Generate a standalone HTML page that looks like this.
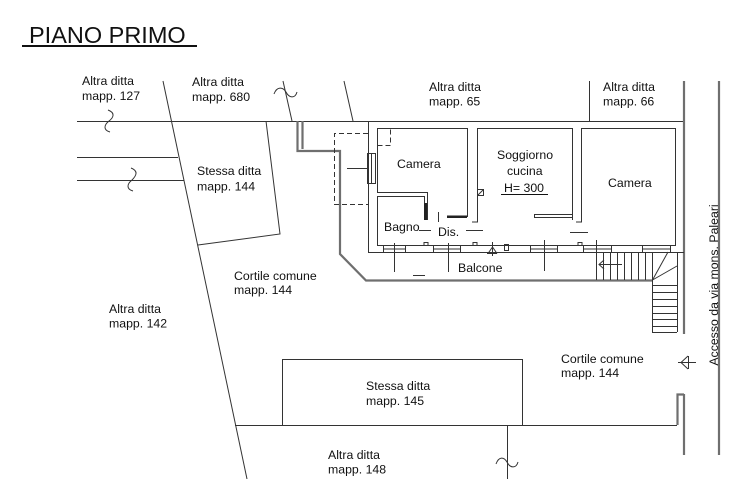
<!DOCTYPE html>
<html><head><meta charset="utf-8"><style>
html,body{margin:0;padding:0;background:#fff;}
svg{display:block;}
text{font-family:"Liberation Sans",Arial,sans-serif;font-size:12.3px;fill:#111;}
</style></head><body>
<svg width="745" height="479" viewBox="0 0 745 479" xmlns="http://www.w3.org/2000/svg">
<rect width="745" height="479" fill="#fff"/>
<!-- Title -->
<text x="29" y="43" style="font-size:23.5px">PIANO PRIMO</text>
<line x1="22" y1="46" x2="197" y2="46" stroke="#111" stroke-width="2"/>

<g stroke="#333" stroke-width="1" fill="none">
  <!-- top main line -->
  <line x1="77" y1="121.5" x2="684" y2="121.5"/>
  <line x1="77" y1="157.5" x2="178" y2="157.5"/>
  <line x1="77" y1="180.5" x2="184" y2="180.5"/>
  <!-- long diagonal -->
  <line x1="163" y1="81" x2="247" y2="479"/>
  <!-- stessa ditta 144 -->
  <polyline points="266,121 280,234 198,245"/>
  <!-- short diagonals at top -->
  <line x1="283" y1="81" x2="292" y2="121"/>
  <line x1="344" y1="81" x2="353" y2="121"/>
  <line x1="589.5" y1="81" x2="589.5" y2="121"/>
  <!-- squiggles -->
  <path d="M108,110 C116,113 113,118 109,121 C104,125 103,130 110,132"/>
  <path d="M131,168 C139,171 136,176 132,180 C127,184 126,189 133,191"/>
  <path d="M274,94 C277,86 283,87 286,92 C289,98 295,99 297,92"/>
  <path d="M496,464 C499,456 504,457 507,462 C510,468 516,469 518,462"/>
  <!-- bottom area -->
  <line x1="235" y1="425.5" x2="677" y2="425.5"/>
  <rect x="282.5" y="359.5" width="240" height="66"/>
  <line x1="507.5" y1="425" x2="507.5" y2="479"/>
</g>

<!-- grey outer walls -->
<g stroke="#6f6f6f" stroke-width="2.2" fill="none">
  <path d="M297.5,121 V151 H340 V254 L366,280.5 H652"/>
  <line x1="302.5" y1="121" x2="302.5" y2="149"/>
  <line x1="684" y1="81" x2="684" y2="334"/>
  <line x1="719" y1="81" x2="719" y2="455"/>
  <line x1="684" y1="394" x2="684" y2="455"/>
  <polyline points="684,394.5 677.5,394.5 677.5,425"/>
</g>

<!-- building -->
<g stroke="#333" stroke-width="1" fill="none">
  <line x1="368.5" y1="121" x2="368.5" y2="252"/>
  <!-- Camera left -->
  <polyline points="377.5,193 377.5,128.5 467.5,128.5 467.5,217"/>
  <polyline points="377.5,192.5 427.5,192.5 427.5,220"/>
  <!-- Bagno -->
  <polyline points="377.5,245 377.5,196.5 424.5,196.5 424.5,220"/>
  <!-- Soggiorno -->
  <polyline points="472,222 477.5,222 477.5,128.5 572.5,128.5 572.5,220"/>
  <!-- partition & camera right -->
  <polyline points="576,222 581.5,222 581.5,128.5 675.5,128.5 675.5,245"/>
  <!-- dashed -->
  <g stroke-dasharray="5,3">
    <polyline points="368,133.5 334.5,133.5 334.5,204.5 368,204.5"/>
    <polyline points="377.5,145.5 390.5,145.5 390.5,128.5"/>
  </g>
  <!-- window left wall -->
  <rect x="367.5" y="153.5" width="8" height="30"/>
  <line x1="371.5" y1="153.5" x2="371.5" y2="183.5"/>
  <line x1="347" y1="168.5" x2="367" y2="168.5"/>
  <!-- small column -->
  <rect x="477.5" y="189.5" width="6" height="6"/>
  <line x1="477.5" y1="195.5" x2="483.5" y2="189.5"/>
  <!-- door marks -->
  <line x1="438.5" y1="212" x2="438.5" y2="222"/>
  <line x1="534" y1="214.5" x2="572" y2="214.5"/>
  <line x1="534" y1="217.5" x2="572" y2="217.5"/>
  <line x1="534.5" y1="214.5" x2="534.5" y2="217.5"/>
  <line x1="570" y1="232.5" x2="588" y2="232.5"/>
  <line x1="419" y1="230.5" x2="431" y2="230.5"/>
  <line x1="466" y1="230.5" x2="483" y2="230.5"/>
  <!-- balcony wall -->
  <line x1="368" y1="252.5" x2="684" y2="252.5"/>
  <line x1="377" y1="245.5" x2="676" y2="245.5"/>
  <rect x="383.5" y="245.5" width="22" height="7"/>
  <line x1="383.5" y1="249" x2="405.5" y2="249"/>
  <rect x="433.5" y="245.5" width="27" height="7"/>
  <line x1="433.5" y1="249" x2="460.5" y2="249"/>
  <rect x="530.5" y="245.5" width="27" height="7"/>
  <line x1="530.5" y1="249" x2="557.5" y2="249"/>
  <rect x="583.5" y="245.5" width="28" height="7"/>
  <line x1="583.5" y1="249" x2="611.5" y2="249"/>
  <rect x="642.5" y="245.5" width="28" height="7"/>
  <line x1="642.5" y1="249" x2="670.5" y2="249"/>
  <rect x="504.5" y="244.5" width="4" height="6"/>
  <path d="M424,245.5 V242.5 H428 V245.5"/>
  <path d="M473,245.5 V242.5 H477 V245.5"/>
  <path d="M578,245.5 V242.5 H582 V245.5"/>
  <!-- section lines -->
  <line x1="394.5" y1="243" x2="394.5" y2="272"/>
  <line x1="448.5" y1="243" x2="448.5" y2="272"/>
  <line x1="544.5" y1="240" x2="544.5" y2="271"/>
  <line x1="413" y1="275.5" x2="425" y2="275.5"/>
  <!-- level marker -->
  <line x1="492.5" y1="242" x2="492.5" y2="256"/>
  <line x1="487" y1="253.5" x2="497" y2="253.5"/>
  <polyline points="488,253.5 492.5,247 497,253.5"/>
  <!-- stairs horizontal flight -->
  <line x1="596.5" y1="240" x2="596.5" y2="280"/>
  <line x1="603.5" y1="252" x2="603.5" y2="280"/>
  <line x1="610.5" y1="252" x2="610.5" y2="280"/>
  <line x1="617.5" y1="252" x2="617.5" y2="280"/>
  <line x1="624.5" y1="252" x2="624.5" y2="280"/>
  <line x1="631.5" y1="252" x2="631.5" y2="280"/>
  <line x1="638.5" y1="252" x2="638.5" y2="280"/>
  <line x1="645.5" y1="252" x2="645.5" y2="280"/>
  <line x1="652.5" y1="252" x2="652.5" y2="332"/>
  <line x1="599" y1="264.5" x2="622" y2="264.5"/>
  <polyline points="604,260 599,264.5 604,269"/>
  <!-- winders -->
  <line x1="652.5" y1="280" x2="677" y2="266"/>
  <line x1="652.5" y1="280" x2="668" y2="252"/>
  <line x1="677.5" y1="252" x2="677.5" y2="332"/>
  <!-- vertical flight -->
  <line x1="652" y1="285.5" x2="677" y2="285.5"/>
  <line x1="652" y1="292.5" x2="677" y2="292.5"/>
  <line x1="652" y1="299.5" x2="677" y2="299.5"/>
  <line x1="652" y1="306.5" x2="677" y2="306.5"/>
  <line x1="652" y1="313.5" x2="677" y2="313.5"/>
  <line x1="652" y1="319.5" x2="677" y2="319.5"/>
  <line x1="652" y1="326.5" x2="677" y2="326.5"/>
  <line x1="652" y1="332.5" x2="677" y2="332.5"/>
  <!-- access arrow -->
  <line x1="678" y1="362.5" x2="696" y2="362.5"/>
  <line x1="688.5" y1="356" x2="688.5" y2="369"/>
  <polyline points="688,356 681,362.5 688,369"/>
  <!-- H=300 underline -->
  <line x1="501" y1="194.5" x2="548" y2="194.5" stroke="#111"/>
</g>
<!-- dark doors -->
<rect x="424" y="203" width="3" height="17" fill="#222"/>
<rect x="447" y="215.5" width="20" height="2.5" fill="#222"/>

<!-- labels -->
<text x="82" y="85">Altra ditta</text><text x="82" y="100">mapp. 127</text>
<text x="192" y="86">Altra ditta</text><text x="192" y="101">mapp. 680</text>
<text x="429" y="91">Altra ditta</text><text x="429" y="105.5">mapp. 65</text>
<text x="603" y="91">Altra ditta</text><text x="603" y="105.5">mapp. 66</text>
<text x="197" y="175">Stessa ditta</text><text x="197" y="190.5">mapp. 144</text>
<text x="397" y="168">Camera</text>
<text x="497" y="159">Soggiorno</text>
<text x="507" y="175">cucina</text>
<text x="504" y="192">H= 300</text>
<text x="608" y="187">Camera</text>
<text x="384" y="231">Bagno</text>
<text x="438" y="236">Dis.</text>
<text x="458" y="272">Balcone</text>
<text x="234" y="280">Cortile comune</text><text x="234" y="294">mapp. 144</text>
<text x="109" y="313">Altra ditta</text><text x="109" y="327.5">mapp. 142</text>
<text x="561" y="363">Cortile comune</text><text x="561" y="377">mapp. 144</text>
<text x="366" y="390">Stessa ditta</text><text x="366" y="405">mapp. 145</text>
<text x="328" y="459">Altra ditta</text><text x="328" y="473.5">mapp. 148</text>
<text x="718" y="285" text-anchor="middle" transform="rotate(-90 718 285)">Accesso da via mons. Paleari</text>
</svg>
</body></html>
